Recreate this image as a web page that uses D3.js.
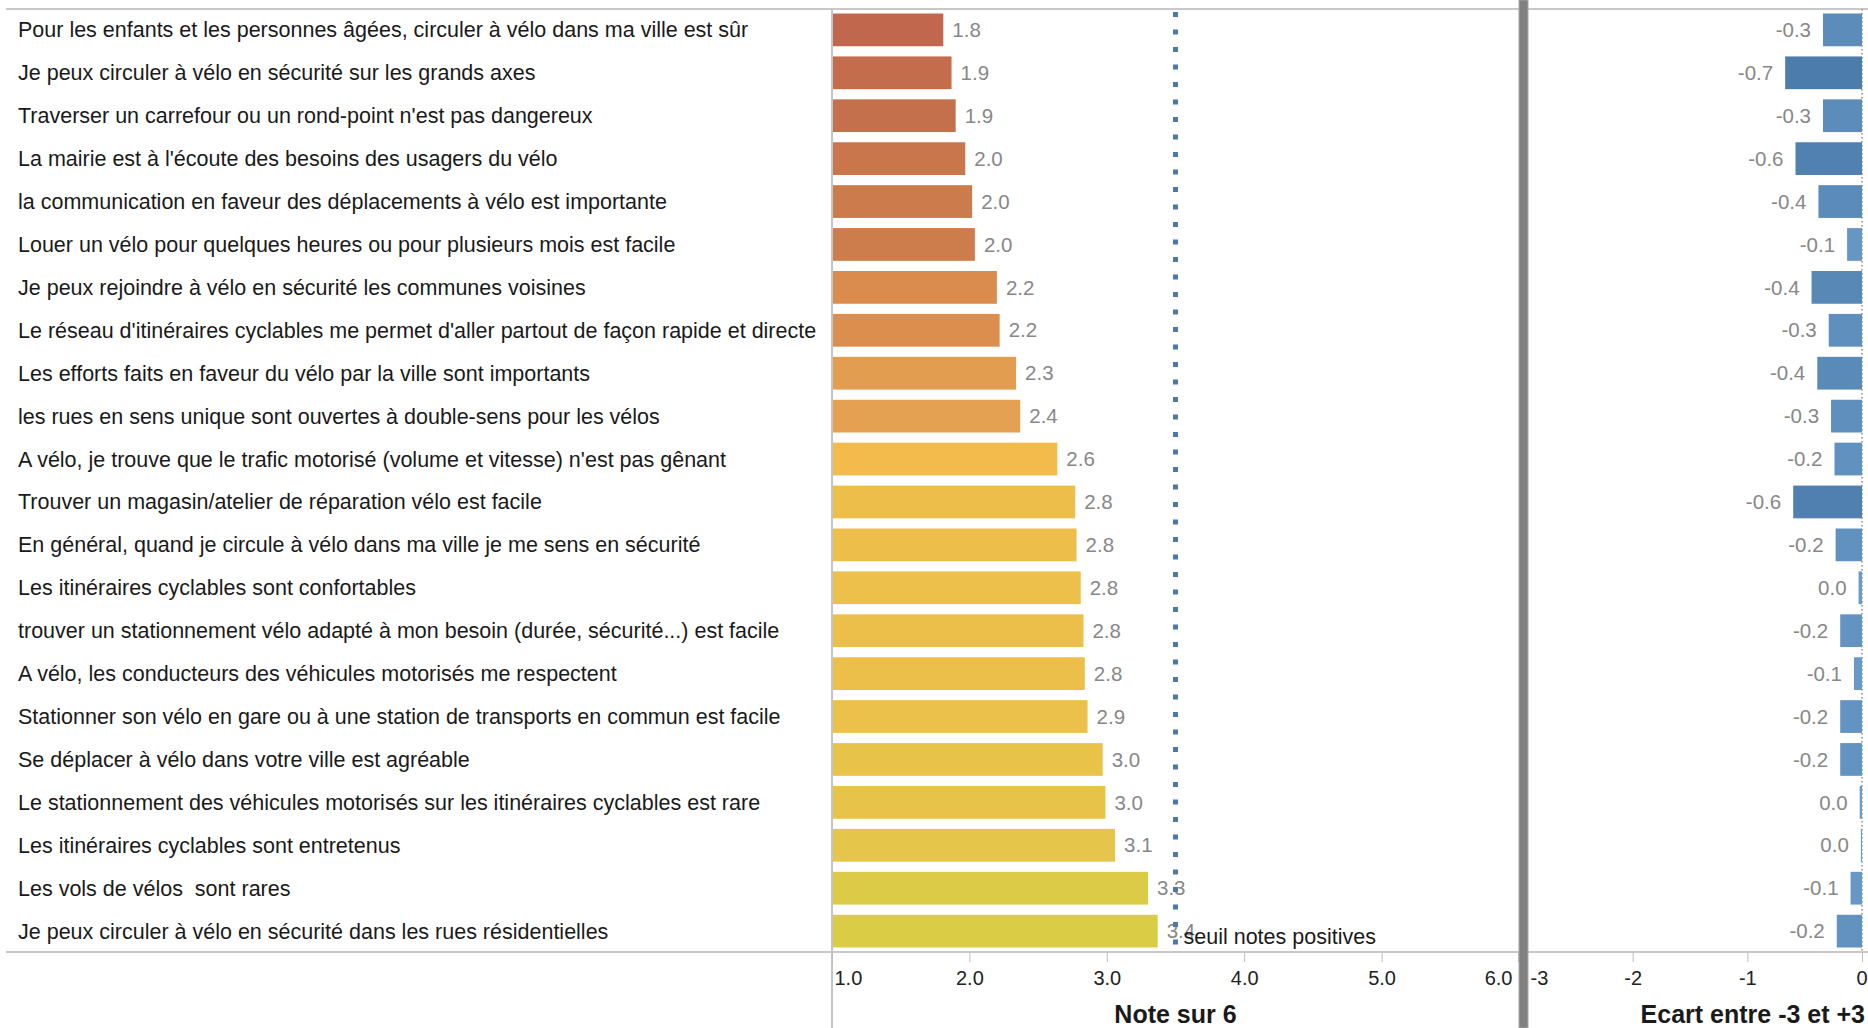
<!DOCTYPE html>
<html>
<head>
<meta charset="utf-8">
<script src="https://cdn.jsdelivr.net/npm/d3@7"></script>
<style>
  body { margin: 0; background: #fff; }
  text { font-family: "Liberation Sans", Arial, sans-serif; white-space: pre; }
</style>
</head>
<body>
<div id="container"></div>
<script>
// questions du baromètre, de haut en bas
var questions = [
  "Pour les enfants et les personnes âgées, circuler à vélo dans ma ville est sûr",
  "Je peux circuler à vélo en sécurité sur les grands axes",
  "Traverser un carrefour ou un rond-point n'est pas dangereux",
  "La mairie est à l'écoute des besoins des usagers du vélo",
  "la communication en faveur des déplacements à vélo est importante",
  "Louer un vélo pour quelques heures ou pour plusieurs mois est facile",
  "Je peux rejoindre à vélo en sécurité les communes voisines",
  "Le réseau d'itinéraires cyclables me permet d'aller partout de façon rapide et directe",
  "Les efforts faits en faveur du vélo par la ville sont importants",
  "les rues en sens unique sont ouvertes à double-sens pour les vélos",
  "A vélo, je trouve que le trafic motorisé (volume et vitesse) n'est pas gênant",
  "Trouver un magasin/atelier de réparation vélo est facile",
  "En général, quand je circule à vélo dans ma ville je me sens en sécurité",
  "Les itinéraires cyclables sont confortables",
  "trouver un stationnement vélo adapté à mon besoin (durée, sécurité...) est facile",
  "A vélo, les conducteurs des véhicules motorisés me respectent",
  "Stationner son vélo en gare ou à une station de transports en commun est facile",
  "Se déplacer à vélo dans votre ville est agréable",
  "Le stationnement des véhicules motorisés sur les itinéraires cyclables est rare",
  "Les itinéraires cyclables sont entretenus",
  "Les vols de vélos  sont rares",
  "Je peux circuler à vélo en sécurité dans les rues résidentielles"
];

var notes = [1.81, 1.87, 1.90, 1.97, 2.02, 2.04, 2.20, 2.22, 2.34, 2.37, 2.64,
             2.77, 2.78, 2.81, 2.83, 2.84, 2.86, 2.97, 2.99, 3.06, 3.30, 3.37];

var ecarts = [-0.34, -0.67, -0.34, -0.58, -0.38, -0.13, -0.44, -0.29, -0.39, -0.27, -0.24,
              -0.60, -0.23, -0.03, -0.19, -0.07, -0.19, -0.19, -0.02, -0.01, -0.10, -0.22];

var noteTicks = [1, 2, 3, 4, 5, 6];
var ecartTicks = [-3, -2, -1, 0];
var seuil = 3.5;

var data = questions.map(function(q, i) {
  return { question: q, note: notes[i], ecart: ecarts[i] };
});

var svgWidth = 1868;
var svgHeight = 1028;
var plotTop = 9;
var plotBottom = 952;

var svg = d3.select("#container")
  .append("svg")
  .attr("width", svgWidth)
  .attr("height", svgHeight);

var y = d3.scaleBand()
  .domain(questions)
  .range([plotTop, plotBottom])
  .paddingInner(0.237)
  .paddingOuter(0.105);

var xNote = d3.scaleLinear()
  .domain([1, 6])
  .range([832, 1519]);

var xEcart = d3.scaleLinear()
  .domain([-3, 0])
  .range([1518, 1862]);

var noteColor = d3.scaleLinear()
  .domain([1.8, 2.04, 2.22, 2.37, 2.64, 2.83, 3.06, 3.37])
  .range(["#c0664d", "#cd7d4c", "#dc8e4f", "#e4a151", "#f2bb4b", "#ecbf4b", "#e5c54a", "#dacd45"]);

var ecartColor = d3.scaleLinear()
  .domain([-0.7, 0])
  .range(["#4b7bab", "#6c9dc9"]);

function fmt(v) {
  var s = v.toFixed(1);
  return s === "-0.0" ? "0.0" : s;
}

// lignes de cadre
svg.append("g")
  .selectAll("line")
  .data([plotTop, plotBottom])
  .enter()
  .append("line")
  .attr("x1", 6)
  .attr("x2", svgWidth)
  .attr("y1", d => d)
  .attr("y2", d => d)
  .attr("stroke", "#c8c8c8")
  .attr("stroke-width", 2);

svg.append("line")
  .attr("x1", xNote(1))
  .attr("x2", xNote(1))
  .attr("y1", plotTop)
  .attr("y2", svgHeight)
  .attr("stroke", "#c4c4c4")
  .attr("stroke-width", 2);

// libellés des questions
svg.append("g")
  .selectAll("text")
  .data(data)
  .enter()
  .append("text")
  .attr("x", 18)
  .attr("y", d => y(d.question) + y.bandwidth() / 2)
  .attr("dy", "0.35em")
  .style("font-size", "21.5px")
  .style("fill", "#1a1a1a")
  .text(d => d.question);

// barres des notes
svg.append("g")
  .selectAll("rect")
  .data(data)
  .enter()
  .append("rect")
  .attr("x", xNote(1) + 1)
  .attr("y", d => y(d.question))
  .attr("width", d => xNote(d.note) - xNote(1) - 1)
  .attr("height", y.bandwidth())
  .attr("fill", d => noteColor(d.note));

svg.append("g")
  .selectAll("text")
  .data(data)
  .enter()
  .append("text")
  .attr("x", d => xNote(d.note) + 9)
  .attr("y", d => y(d.question) + y.bandwidth() / 2)
  .attr("dy", "0.35em")
  .style("font-size", "20.5px")
  .style("fill", "#888")
  .text(d => fmt(d.note));

// axe des notes
var noteAxis = svg.append("g")
  .attr("transform", `translate(0, ${plotBottom})`)
  .call(d3.axisBottom(xNote).tickValues(noteTicks).tickFormat(d3.format(".1f")).tickSize(10));

noteAxis.select(".domain").remove();
noteAxis.selectAll("line").attr("stroke", "#bdbdbd");
noteAxis.selectAll("text")
  .attr("y", 19)
  .style("font-size", "20px")
  .style("font-family", "Liberation Sans, Arial, sans-serif")
  .style("fill", "#222")
  .attr("text-anchor", (d, i) => i === 0 ? "start" : (i === noteTicks.length - 1 ? "end" : "middle"))
  .attr("x", (d, i) => i === 0 ? 2 : (i === noteTicks.length - 1 ? -7 : 0));

svg.append("text")
  .attr("x", (xNote(1) + xNote(6)) / 2)
  .attr("y", 1023)
  .attr("text-anchor", "middle")
  .style("font-size", "25px")
  .style("font-weight", "bold")
  .style("fill", "#1a1a1a")
  .text("Note sur 6");

// seuil notes positives
svg.append("line")
  .attr("x1", xNote(seuil))
  .attr("x2", xNote(seuil))
  .attr("y1", plotTop + 3)
  .attr("y2", plotBottom - 3)
  .attr("stroke", "#4e79a7")
  .attr("stroke-width", 5)
  .attr("stroke-dasharray", "5 12.5");

svg.append("text")
  .attr("x", xNote(seuil) + 8)
  .attr("y", y(questions[questions.length - 1]) + y.bandwidth() / 2 + 5)
  .attr("dy", "0.35em")
  .style("font-size", "21.5px")
  .style("fill", "#1a1a1a")
  .text("seuil notes positives");

// panneau des écarts
svg.append("line")
  .attr("x1", xEcart(0))
  .attr("x2", xEcart(0))
  .attr("y1", plotTop)
  .attr("y2", plotBottom)
  .attr("stroke", "#8f8f8f")
  .attr("stroke-width", 1.5)
  .attr("stroke-dasharray", "1.5 2.5");

svg.append("g")
  .selectAll("rect")
  .data(data)
  .enter()
  .append("rect")
  .attr("x", d => xEcart(d.ecart))
  .attr("y", d => y(d.question))
  .attr("width", d => xEcart(0) - xEcart(d.ecart))
  .attr("height", y.bandwidth())
  .attr("fill", d => ecartColor(d.ecart));

svg.append("g")
  .selectAll("text")
  .data(data)
  .enter()
  .append("text")
  .attr("x", d => xEcart(d.ecart) - 12)
  .attr("y", d => y(d.question) + y.bandwidth() / 2)
  .attr("dy", "0.35em")
  .attr("text-anchor", "end")
  .style("font-size", "20.5px")
  .style("fill", "#888")
  .text(d => fmt(d.ecart));

var ecartAxis = svg.append("g")
  .attr("transform", `translate(0, ${plotBottom})`)
  .call(d3.axisBottom(xEcart).tickValues(ecartTicks).tickFormat(d => String(d)).tickSize(10));

ecartAxis.select(".domain").remove();
ecartAxis.selectAll("line").attr("stroke", "#bdbdbd");
ecartAxis.selectAll("text")
  .attr("y", 19)
  .style("font-size", "20px")
  .style("font-family", "Liberation Sans, Arial, sans-serif")
  .style("fill", "#222")
  .attr("text-anchor", (d, i) => i === 0 ? "start" : (i === ecartTicks.length - 1 ? "end" : "middle"))
  .attr("x", (d, i) => i === 0 ? 12 : (i === ecartTicks.length - 1 ? 5 : 0));

svg.append("text")
  .attr("x", 1865)
  .attr("y", 1023)
  .attr("text-anchor", "end")
  .style("font-size", "25px")
  .style("font-weight", "bold")
  .style("fill", "#1a1a1a")
  .text("Ecart entre -3 et +3");

// séparateur gris entre les deux panneaux
svg.append("rect")
  .attr("x", 1519)
  .attr("y", 0)
  .attr("width", 9)
  .attr("height", svgHeight)
  .attr("fill", "#808080")
  .attr("stroke", "#a8a8a8")
  .attr("stroke-width", 1);
</script>
</body>
</html>
